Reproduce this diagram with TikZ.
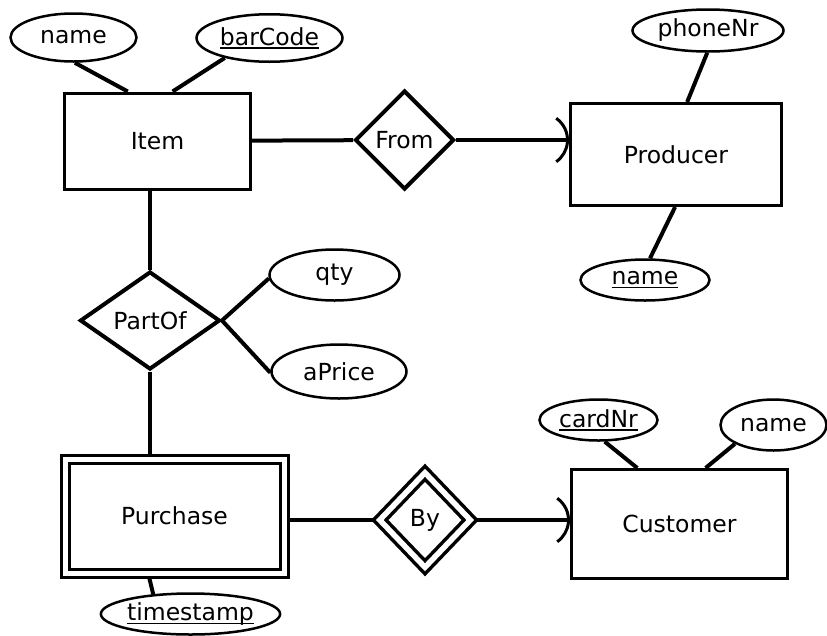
\documentclass[tikz,border=0pt]{standalone}
\usepackage{fontspec}
\setmainfont{DejaVu Sans}
\usetikzlibrary{shapes.geometric,arrows.meta,backgrounds}
\newcommand{\keyattr}[1]{\setbox0\hbox{#1}\rlap{\rule[-3.5pt]{\wd0}{1.3pt}}\box0}

\begin{document}
\begin{tikzpicture}[x=1pt,y=-1pt,font=\fontsize{23.5}{28}\selectfont,
  entity/.style={draw,line width=3pt,fill=white,inner sep=0pt},
  weak/.style={entity,double,double distance=5pt},
  rel/.style={draw,diamond,line width=4pt,fill=white,inner sep=0pt},
  wrel/.style={rel,line width=3.5pt,double,double distance=5.5pt},
  attr/.style={draw,ellipse,line width=2.5pt,fill=white,inner sep=0pt},
  link/.style={line width=4pt},
  tip/.style={-{Arc Barb[length=28pt,width=56pt,arc=110,line width=3pt]}}]
\useasboundingbox (0,0) rectangle (827,635);

\node[entity,minimum width=186pt,minimum height=96pt] (item) at (157.5,141) {Item};
\node[attr,minimum width=126pt,minimum height=48pt] (iname) at (73.5,37.5) {name};
\node[attr,minimum width=146pt,minimum height=47.5pt] (bar) at (269.5,38) {\keyattr{barCode}};
\node[rel,minimum width=99pt,minimum height=99pt] (from) at (404.5,140) {From};
\node[entity,minimum width=211pt,minimum height=102pt] (prod) at (676,154.5) {Producer};
\node[attr,minimum width=151pt,minimum height=42pt] (phone) at (708,30.5) {phoneNr};
\node[attr,minimum width=129pt,minimum height=41pt] (pname) at (645,280) {\keyattr{name}};
\node[rel,minimum width=140pt,minimum height=98pt] (part) at (150,320.5) {PartOf};
\node[attr,minimum width=130pt,minimum height=51pt] (qty) at (334.5,275) {qty};
\node[attr,minimum width=135pt,minimum height=54pt] (price) at (339,371.5) {aPrice};
\node[weak,minimum width=219pt,minimum height=114pt] (purch) at (174.5,516) {Purchase};
\node[attr,minimum width=152pt,minimum height=41pt] (ts) at (190.5,614) {\keyattr{timestamp}};
\node[wrel,minimum width=92pt,minimum height=96pt] (by) at (425,520) {By};
\node[entity,minimum width=216pt,minimum height=109pt] (cust) at (679.5,524) {Customer};
\node[attr,minimum width=118pt,minimum height=41pt] (card) at (598.5,420) {\keyattr{cardNr}};
\node[attr,minimum width=106pt,minimum height=51pt] (cname) at (773.5,425) {name};

\begin{scope}[on background layer]
\draw[link] (node cs:name=iname,angle=273) -- (node cs:name=item,angle=121);
\draw[link] (node cs:name=bar,angle=204) -- (node cs:name=item,angle=73);
\draw[link] (node cs:name=item) -- (node cs:name=from);
\draw[link,tip] (from.east) -- (from.east -| prod.west);
\draw[link] (node cs:name=phone,angle=268) -- (node cs:name=prod,angle=78);
\draw[link] (node cs:name=prod,angle=269) -- (node cs:name=pname,angle=77);
\draw[link] (part.north) -- (part.north |- item.south);
\draw[link] (node cs:name=part,anchor=east) -- (node cs:name=qty,angle=183);
\draw[link] (node cs:name=part,anchor=east) -- (node cs:name=price,angle=181);
\draw[link] (part.south) -- (part.south |- purch.north);
\draw[link] (by.west) -- (by.west -| purch.east);
\draw[link,tip] (by.east) -- (by.east -| cust.west);
\draw[link] (node cs:name=card,angle=286) -- (node cs:name=cust,angle=127);
\draw[link] (node cs:name=cname,angle=206) -- (node cs:name=cust,angle=65);
\draw[link] (node cs:name=purch,angle=246) -- (node cs:name=ts,angle=152);
\end{scope}
\end{tikzpicture}
\end{document}
